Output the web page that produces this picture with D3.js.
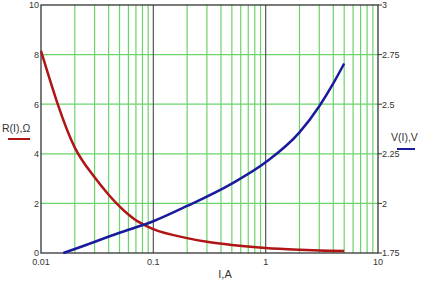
<!DOCTYPE html>
<html>
<head>
<meta charset="utf-8">
<script src="https://cdn.jsdelivr.net/npm/d3@7"></script>
<style>
  body { margin: 0; background: #fff; }
  text { font-family: "Liberation Sans", Arial, sans-serif; fill: #333; }
</style>
</head>
<body>
<div id="chart"></div>
<script>
// R(I) curve, ohms
const currentR = [0.01, 0.02, 0.03, 0.04, 0.05, 0.06, 0.07, 0.08, 0.09, 0.1, 0.2, 0.3, 0.5, 1, 2, 3, 5];
const resist = [8.15, 4.25, 3.05, 2.35, 1.88, 1.55, 1.32, 1.17, 1.05, 0.96, 0.6, 0.45, 0.32, 0.2, 0.13, 0.1, 0.08];

// V(I) curve, volts
const currentV = [0.0158, 0.02, 0.05, 0.1, 0.2, 0.5, 1, 2, 3, 4, 5];
const volts = [1.75, 1.77, 1.852, 1.91, 1.987, 2.1, 2.207, 2.358, 2.49, 2.605, 2.705];

const xTicks = [0.01, 0.1, 1, 10];
const xTickLabels = ["0.01", "0.1", "1", "10"];
const leftTicks = [0, 2, 4, 6, 8, 10];
const rightTicks = [1.75, 2, 2.25, 2.5, 2.75, 3];

const width = 421, height = 287;
const pLeft = 41, pRight = 378, pTop = 5, pBottom = 253;

const svg = d3.select("#chart").append("svg")
  .attr("width", width)
  .attr("height", height);

const x = d3.scaleLog().domain([0.01, 10]).range([pLeft, pRight]);
const yR = d3.scaleLinear().domain([0, 10]).range([pBottom, pTop]);
const yV = d3.scaleLinear().domain([1.75, 3]).range([pBottom, pTop]);

// minor log grid
let minor = [];
[0.01, 0.1, 1].forEach(d => {
  for (let k = 2; k <= 9; k++) minor.push(d * k);
});

svg.append("g").selectAll("line").data(minor).join("line")
  .attr("x1", d => x(d)).attr("x2", d => x(d))
  .attr("y1", pTop).attr("y2", pBottom)
  .attr("stroke", "#6ad46a").attr("stroke-width", 1.2);

svg.append("g").selectAll("line").data([2, 4, 6, 8]).join("line")
  .attr("x1", pLeft).attr("x2", pRight)
  .attr("y1", d => yR(d)).attr("y2", d => yR(d))
  .attr("stroke", "#6ad46a").attr("stroke-width", 1.2);

// decade lines
svg.append("g").selectAll("line").data([0.1, 1]).join("line")
  .attr("x1", d => x(d)).attr("x2", d => x(d))
  .attr("y1", pTop).attr("y2", pBottom)
  .attr("stroke", "#555").attr("stroke-width", 1.2);

// frame
svg.append("rect")
  .attr("x", pLeft).attr("y", pTop)
  .attr("width", pRight - pLeft).attr("height", pBottom - pTop)
  .attr("fill", "none").attr("stroke", "#333").attr("stroke-width", 1.3);

// curves
const lineR = d3.line()
  .x((d, i) => x(currentR[i]))
  .y(d => yR(d))
  .curve(d3.curveMonotoneX);

const lineV = d3.line()
  .x((d, i) => x(currentV[i]))
  .y(d => yV(d))
  .curve(d3.curveMonotoneX);

svg.append("path").datum(resist)
  .attr("d", lineR)
  .attr("fill", "none").attr("stroke", "#b01414").attr("stroke-width", 2.5);

svg.append("path").datum(volts)
  .attr("d", lineV)
  .attr("fill", "none").attr("stroke", "#1a1a9e").attr("stroke-width", 2.5);

// x tick labels
svg.append("g").selectAll("text").data(xTicks).join("text")
  .attr("x", d => x(d)).attr("y", 265)
  .attr("text-anchor", "middle")
  .attr("font-size", 9)
  .text((d, i) => xTickLabels[i]);

// left labels
svg.append("g").selectAll("text").data(leftTicks).join("text")
  .attr("x", pLeft - 2).attr("y", d => yR(d))
  .attr("dy", "0.38em")
  .attr("text-anchor", "end")
  .attr("font-size", 9)
  .text(d => d);

// right ticks + labels
svg.append("g").selectAll("line").data(rightTicks).join("line")
  .attr("x1", pRight).attr("x2", pRight + 4)
  .attr("y1", d => yV(d)).attr("y2", d => yV(d))
  .attr("stroke", "#333");

svg.append("g").selectAll("text").data(rightTicks).join("text")
  .attr("x", pRight + 4).attr("y", d => yV(d))
  .attr("dy", "0.38em")
  .attr("font-size", 9)
  .text(d => d);

// axis titles
svg.append("text")
  .attr("x", 225).attr("y", 278)
  .attr("text-anchor", "middle")
  .attr("font-size", 11)
  .text("I,A");

svg.append("text")
  .attr("x", 2).attr("y", 132)
  .attr("font-size", 10.5)
  .text("R(I),\u03A9");
svg.append("line")
  .attr("x1", 8).attr("x2", 30).attr("y1", 139).attr("y2", 139)
  .attr("stroke", "#b01414").attr("stroke-width", 2);

svg.append("text")
  .attr("x", 391).attr("y", 141)
  .attr("font-size", 10.5)
  .text("V(I),V");
svg.append("line")
  .attr("x1", 397).attr("x2", 415).attr("y1", 149).attr("y2", 149)
  .attr("stroke", "#1a1a9e").attr("stroke-width", 2);
</script>
</body>
</html>
